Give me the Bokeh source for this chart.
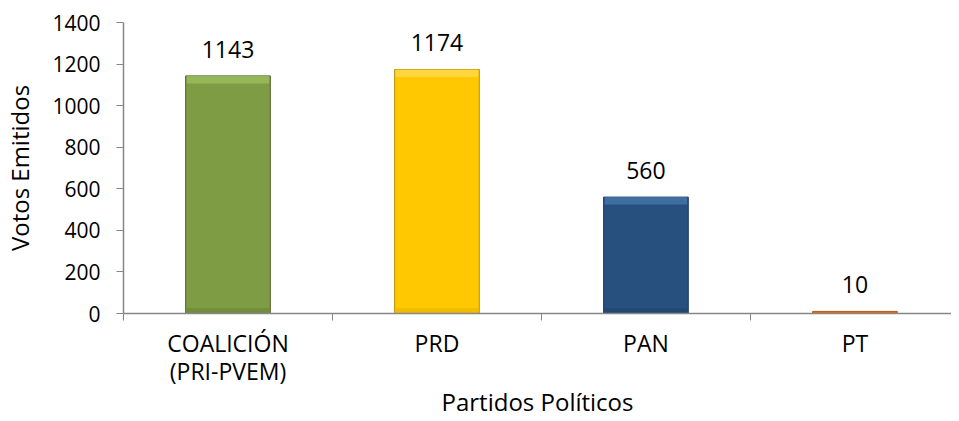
from bokeh.plotting import figure
from bokeh.models import Range1d, FixedTicker, ColumnDataSource, LabelSet
from bokeh.core.properties import value
from bokeh.embed import file_html
from bokeh.resources import INLINE

categories = ["COALICIÓN\n(PRI-PVEM)", "PRD", "PAN", "PT"]
votes = [1143, 1174, 560, 10]
colors = ["#7E9C44", "#FFC800", "#27507F", "#E46C0A"]
highlights = ["#9BBE5A", "#FFD94D", "#4675AD", "#F08A3A"]
shadows = ["#6F8A3A", "#EDB800", "#214670", "#D0600A"]
outlines = ["#4F6228", "#B88F00", "#17375E", "#C0560A"]
y_ticks = [0, 200, 400, 600, 800, 1000, 1200, 1400]
x_title = "Partidos Políticos"
y_title = "Votos Emitidos"

FONT = "Open Sans"
BEVEL = 36  # bevel strip height in data units (style only)

W, H = 951, 421
LEFT, TOP, BOTTOM = 115, 22, 108
CAT_PX = 211.0
x_end = (W - LEFT) / CAT_PX

xs = [i + 0.5 for i in range(len(categories))]
labels_txt = [str(v) for v in votes]
src = ColumnDataSource(dict(x=xs, top=votes, color=colors, outline=outlines, lbl=labels_txt))

big = [i for i, v in enumerate(votes) if v > 3 * BEVEL]
hl_src = ColumnDataSource(dict(
    x=[xs[i] for i in big],
    top=[votes[i] for i in big],
    bottom=[votes[i] - BEVEL for i in big],
    color=[highlights[i] for i in big],
))
sh_src = ColumnDataSource(dict(
    x=[xs[i] for i in big],
    top=[BEVEL * 0.7 for i in big],
    color=[shadows[i] for i in big],
))

p = figure(width=W, height=H, output_backend="svg", toolbar_location=None,
           x_range=Range1d(0, x_end), y_range=Range1d(0, 1400),
           min_border_left=LEFT, min_border_right=0, min_border_top=TOP, min_border_bottom=BOTTOM)
p.outline_line_color = None
p.grid.grid_line_color = None
p.background_fill_color = "white"
p.border_fill_color = "white"

p.vbar(x="x", top="top", width=0.405, bottom=0, source=src,
       fill_color="color", line_color="outline", line_width=1)
p.vbar(x="x", top="top", bottom="bottom", width=0.395, source=hl_src,
       fill_color="color", line_color=None, fill_alpha=0.8)
p.vbar(x="x", top="top", bottom=0, width=0.395, source=sh_src,
       fill_color="color", line_color=None, fill_alpha=0.8)

labels = LabelSet(x="x", y="top", text="lbl", source=src, text_align="center",
                  text_baseline="alphabetic", y_offset=18,
                  text_font=value(FONT), text_font_size="23px", text_color="#000000")
p.add_layout(labels)

ax = p.xaxis[0]
ax.ticker = FixedTicker(ticks=xs, minor_ticks=list(range(len(categories) + 1)))
ax.major_label_overrides = {x: c for x, c in zip(xs, categories)}
ax.major_tick_out = 0
ax.major_tick_in = 0
ax.minor_tick_out = 7
ax.minor_tick_in = 0
ax.minor_tick_line_color = "#868686"
ax.axis_line_color = "#868686"
ax.axis_line_width = 1.5
ax.major_label_text_font = FONT
ax.major_label_text_font_size = "23px"
ax.major_label_text_color = "#000000"
ax.major_label_text_line_height = 0.9
ax.major_label_standoff = 6
ax.axis_label = x_title
ax.axis_label_text_font = FONT
ax.axis_label_text_font_size = "24px"
ax.axis_label_text_font_style = "normal"
ax.axis_label_text_color = "#000000"
ax.axis_label_standoff = -5

ay = p.yaxis[0]
ay.ticker = FixedTicker(ticks=y_ticks)
ay.minor_tick_line_color = None
ay.major_tick_out = 7
ay.major_tick_in = 0
ay.major_tick_line_color = "#868686"
ay.axis_line_color = "#868686"
ay.axis_line_width = 1.5
ay.major_label_text_font = FONT
ay.major_label_text_font_size = "21px"
ay.major_label_text_color = "#000000"
ay.major_label_standoff = 16
ay.axis_label = y_title
ay.axis_label_text_font = FONT
ay.axis_label_text_font_size = "24px"
ay.axis_label_text_font_style = "normal"
ay.axis_label_text_color = "#000000"
ay.axis_label_standoff = 13

open("out.html", "w").write(file_html(p, INLINE))
